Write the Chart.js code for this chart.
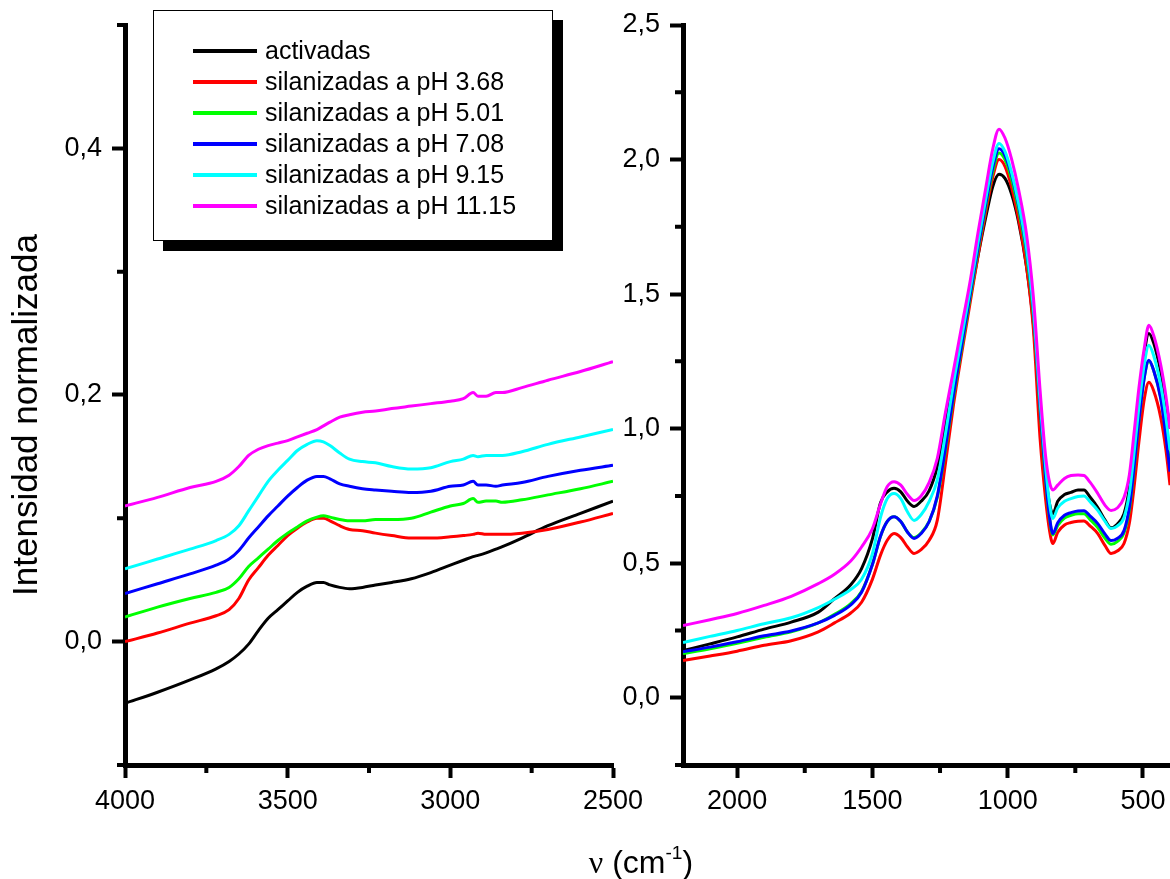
<!DOCTYPE html>
<html>
<head>
<meta charset="utf-8">
<title>Espectros IR normalizados</title>
<script src="https://cdn.jsdelivr.net/npm/chart.js"></script>
<style>
    html, body { margin: 0; padding: 0; background: #fff; }
    #page {
        position: relative;
        width: 1170px;
        height: 879px;
        overflow: hidden;
        font-family: "Liberation Sans", Arial, sans-serif;
        color: #000;
    }
    canvas { position: absolute; top: 0; }
    #leftChart { left: 0; }
    #rightChart { left: 600px; }
    #legend {
        position: absolute;
        left: 153px;
        top: 10px;
        width: 400px;
        height: 231px;
        border: 1px solid #000;
        background: #fff;
        box-shadow: 10px 10px 0 #000;
        padding-top: 24px;
        box-sizing: border-box;
    }
    .legend-row {
        display: flex;
        align-items: center;
        height: 31px;
        font-size: 25px;
        white-space: nowrap;
    }
    .swatch {
        display: inline-block;
        width: 64px;
        height: 4px;
        margin-left: 39px;
        margin-right: 8px;
    }
    #xTitle {
        position: absolute;
        left: 541px;
        top: 846px;
        width: 200px;
        text-align: center;
        font-size: 32px;
        line-height: 32px;
    }
    #xTitle .nu { font-family: "Liberation Serif", serif; }
    #xTitle sup { font-size: 60%; vertical-align: 0.75em; line-height: 0; }
    #yTitle {
        position: absolute;
        left: -175px;
        top: 395px;
        width: 400px;
        height: 40px;
        line-height: 40px;
        text-align: center;
        font-size: 35px;
        transform: rotate(-90deg);
        white-space: nowrap;
    }
</style>
</head>
<body>
<div id="page">
    <canvas id="leftChart" width="650" height="879"></canvas>
    <canvas id="rightChart" width="570" height="879"></canvas>
    <div id="legend"></div>
    <div id="yTitle">Intensidad normalizada</div>
    <div id="xTitle"><span class="nu">ν</span> (cm<sup>-1</sup>)</div>
</div>

<script>
// Series labels and colours (legend order)
const SERIES_LABELS = [
    'activadas',
    'silanizadas a pH 3.68',
    'silanizadas a pH 5.01',
    'silanizadas a pH 7.08',
    'silanizadas a pH 9.15',
    'silanizadas a pH 11.15'
];
const SERIES_COLORS = ['#000000', '#ff0000', '#00ff00', '#0000ff', '#00ffff', '#ff00ff'];

// Left panel: 4000 - 2500 cm-1
const LEFT_X = [4000, 3900, 3800, 3720, 3680, 3650, 3620, 3590, 3560, 3530, 3500, 3470, 3440, 3410, 3390, 3370,
    3340, 3310, 3270, 3230, 3180, 3120, 3060, 3000, 2960, 2930, 2915, 2890, 2860, 2840, 2780, 2700, 2600, 2500];

const LEFT_ACTIVADAS = [-0.050, -0.041, -0.031, -0.022, -0.016, -0.010, -0.002, 0.009, 0.019, 0.026, 0.033, 0.040,
    0.045, 0.048, 0.048, 0.046, 0.044, 0.043, 0.044, 0.046, 0.048, 0.051, 0.056, 0.062, 0.066, 0.069, 0.070, 0.072,
    0.075, 0.077, 0.084, 0.094, 0.104, 0.114];
const LEFT_PH368 = [0.000, 0.007, 0.015, 0.021, 0.026, 0.035, 0.050, 0.060, 0.070, 0.078, 0.086, 0.092, 0.097,
    0.100, 0.100, 0.098, 0.094, 0.091, 0.090, 0.088, 0.086, 0.084, 0.084, 0.085, 0.086, 0.087, 0.088, 0.087, 0.087,
    0.087, 0.088, 0.091, 0.097, 0.104];
const LEFT_PH501 = [0.020, 0.028, 0.035, 0.040, 0.044, 0.051, 0.061, 0.068, 0.075, 0.082, 0.088, 0.093, 0.098,
    0.101, 0.102, 0.101, 0.099, 0.098, 0.098, 0.099, 0.099, 0.100, 0.105, 0.110, 0.112, 0.116, 0.113, 0.114, 0.114,
    0.113, 0.115, 0.119, 0.124, 0.130];
const LEFT_PH708 = [0.039, 0.047, 0.055, 0.062, 0.067, 0.074, 0.084, 0.093, 0.102, 0.110, 0.118, 0.125, 0.131,
    0.134, 0.134, 0.132, 0.128, 0.126, 0.124, 0.123, 0.122, 0.121, 0.122, 0.126, 0.127, 0.130, 0.127, 0.127, 0.126,
    0.127, 0.129, 0.134, 0.139, 0.143];
const LEFT_PH915 = [0.059, 0.067, 0.075, 0.082, 0.087, 0.094, 0.106, 0.118, 0.130, 0.139, 0.147, 0.155, 0.160,
    0.163, 0.162, 0.159, 0.153, 0.148, 0.146, 0.145, 0.142, 0.140, 0.141, 0.146, 0.148, 0.151, 0.150, 0.151, 0.151,
    0.151, 0.154, 0.160, 0.166, 0.172];
const LEFT_PH1115 = [0.110, 0.117, 0.125, 0.130, 0.135, 0.142, 0.151, 0.156, 0.159, 0.161, 0.163, 0.166, 0.169,
    0.172, 0.175, 0.178, 0.182, 0.184, 0.186, 0.187, 0.189, 0.191, 0.193, 0.195, 0.197, 0.202, 0.199, 0.199, 0.202,
    0.202, 0.206, 0.212, 0.219, 0.227];

// Right panel: 2200 - 400 cm-1
const RIGHT_X = [2200, 2100, 2000, 1900, 1800, 1700, 1640, 1580, 1540, 1500, 1470, 1445, 1420, 1395, 1370, 1346,
    1320, 1290, 1260, 1230, 1200, 1170, 1140, 1110, 1080, 1055, 1032, 1010, 985, 960, 930, 905, 880, 860, 845, 833,
    815, 790, 766, 740, 718, 695, 667, 640, 618, 595, 570, 550, 533, 515, 495, 478, 460, 434, 415, 400];

const RIGHT_ACTIVADAS = [0.175, 0.200, 0.226, 0.255, 0.281, 0.318, 0.368, 0.420, 0.480, 0.590, 0.725, 0.765, 0.778,
    0.765, 0.730, 0.711, 0.730, 0.770, 0.860, 1.020, 1.180, 1.330, 1.480, 1.640, 1.790, 1.900, 1.945, 1.930, 1.870,
    1.770, 1.600, 1.390, 1.060, 0.830, 0.720, 0.684, 0.730, 0.755, 0.763, 0.772, 0.772, 0.745, 0.707, 0.660, 0.632,
    0.645, 0.684, 0.780, 0.930, 1.100, 1.280, 1.354, 1.317, 1.210, 1.100, 1.000];
const RIGHT_PH368 = [0.138, 0.155, 0.173, 0.195, 0.212, 0.245, 0.278, 0.315, 0.355, 0.440, 0.530, 0.585, 0.610,
    0.595, 0.560, 0.536, 0.550, 0.585, 0.660, 0.870, 1.090, 1.280, 1.460, 1.640, 1.810, 1.935, 2.000, 1.975, 1.895,
    1.780, 1.600, 1.370, 0.960, 0.740, 0.620, 0.573, 0.615, 0.642, 0.651, 0.656, 0.657, 0.638, 0.610, 0.565, 0.536,
    0.545, 0.573, 0.650, 0.781, 0.950, 1.110, 1.172, 1.140, 1.040, 0.920, 0.790];
const RIGHT_PH501 = [0.164, 0.182, 0.202, 0.225, 0.245, 0.278, 0.310, 0.350, 0.395, 0.495, 0.600, 0.655, 0.673,
    0.655, 0.615, 0.595, 0.612, 0.655, 0.745, 0.920, 1.120, 1.300, 1.480, 1.660, 1.830, 1.955, 2.024, 2.000, 1.925,
    1.815, 1.645, 1.425, 1.070, 0.810, 0.665, 0.605, 0.640, 0.668, 0.678, 0.684, 0.684, 0.662, 0.632, 0.592, 0.570,
    0.580, 0.612, 0.700, 0.850, 1.030, 1.190, 1.250, 1.215, 1.115, 0.980, 0.860];
const RIGHT_PH708 = [0.171, 0.188, 0.208, 0.230, 0.248, 0.278, 0.306, 0.345, 0.392, 0.495, 0.600, 0.655, 0.673,
    0.655, 0.615, 0.592, 0.610, 0.655, 0.750, 0.930, 1.130, 1.310, 1.490, 1.670, 1.840, 1.970, 2.040, 2.015, 1.940,
    1.830, 1.660, 1.440, 1.080, 0.820, 0.670, 0.610, 0.650, 0.678, 0.688, 0.694, 0.695, 0.675, 0.647, 0.608, 0.584,
    0.592, 0.621, 0.710, 0.856, 1.030, 1.190, 1.254, 1.215, 1.110, 0.970, 0.840];
const RIGHT_PH915 = [0.205, 0.228, 0.250, 0.275, 0.297, 0.335, 0.366, 0.402, 0.440, 0.535, 0.670, 0.740, 0.759,
    0.740, 0.690, 0.659, 0.680, 0.730, 0.810, 0.980, 1.170, 1.340, 1.510, 1.690, 1.860, 1.990, 2.060, 2.030, 1.950,
    1.840, 1.670, 1.450, 1.100, 0.860, 0.720, 0.666, 0.705, 0.730, 0.740, 0.748, 0.750, 0.728, 0.696, 0.655, 0.629,
    0.638, 0.670, 0.760, 0.908, 1.080, 1.240, 1.310, 1.270, 1.160, 1.040, 0.920];
const RIGHT_PH1115 = [0.268, 0.290, 0.313, 0.343, 0.377, 0.424, 0.459, 0.508, 0.560, 0.628, 0.720, 0.785, 0.803,
    0.790, 0.755, 0.733, 0.750, 0.800, 0.890, 1.060, 1.218, 1.380, 1.540, 1.726, 1.900, 2.040, 2.113, 2.080, 2.000,
    1.890, 1.720, 1.490, 1.140, 0.900, 0.800, 0.772, 0.790, 0.815, 0.826, 0.828, 0.826, 0.800, 0.759, 0.715, 0.696,
    0.705, 0.744, 0.830, 0.982, 1.150, 1.300, 1.384, 1.345, 1.235, 1.120, 1.000];

// Axis ticks (major ticks carry labels, minor ticks are short marks only)
const LEFT_X_TICKS = [4000, 3500, 3000, 2500];
const LEFT_X_MINOR = [3750, 3250, 2750];
const LEFT_Y_TICKS = [0.0, 0.2, 0.4];
const LEFT_Y_MINOR = [-0.1, 0.1, 0.3, 0.5];
const RIGHT_X_TICKS = [2000, 1500, 1000, 500];
const RIGHT_X_MINOR = [1750, 1250, 750];
const RIGHT_Y_TICKS = [0.0, 0.5, 1.0, 1.5, 2.0, 2.5];
const RIGHT_Y_MINOR = [-0.25, 0.25, 0.75, 1.25, 1.75, 2.25];

const LEFT_SERIES = [LEFT_ACTIVADAS, LEFT_PH368, LEFT_PH501, LEFT_PH708, LEFT_PH915, LEFT_PH1115];
const RIGHT_SERIES = [RIGHT_ACTIVADAS, RIGHT_PH368, RIGHT_PH501, RIGHT_PH708, RIGHT_PH915, RIGHT_PH1115];

const CANVAS_HEIGHT = 879;
const AXIS_BOTTOM = 765;
const TICK_FONT = { family: 'Liberation Sans', size: 27 };

document.addEventListener('DOMContentLoaded', function() {
    buildLegend();
    initPanel('leftChart', {
        xValues: LEFT_X, series: LEFT_SERIES,
        xMin: 2500, xMax: 4000, yMin: -0.1, yMax: 0.5,
        xTicks: LEFT_X_TICKS, xMinor: LEFT_X_MINOR,
        yTicks: LEFT_Y_TICKS, yMinor: LEFT_Y_MINOR,
        axisWidth: 125, padRight: 37
    });
    initPanel('rightChart', {
        xValues: RIGHT_X, series: RIGHT_SERIES,
        xMin: 400, xMax: 2200, yMin: -0.25, yMax: 2.5,
        xTicks: RIGHT_X_TICKS, xMinor: RIGHT_X_MINOR,
        yTicks: RIGHT_Y_TICKS, yMinor: RIGHT_Y_MINOR,
        axisWidth: 83, padRight: 0
    });
});

/**
 * Build the framed legend from the series labels
 */
function buildLegend() {
    const box = document.getElementById('legend');
    SERIES_LABELS.forEach((label, i) => {
        const row = document.createElement('div');
        row.className = 'legend-row';
        const swatch = document.createElement('span');
        swatch.className = 'swatch';
        swatch.style.background = SERIES_COLORS[i];
        const text = document.createElement('span');
        text.textContent = label;
        row.appendChild(swatch);
        row.appendChild(text);
        box.appendChild(row);
    });
}

/**
 * Short minor tick marks drawn through the chart's own scales
 */
function minorTicks(xMinor, yMinor) {
    return {
        id: 'minorTicks',
        afterDraw(chart) {
            const { ctx, chartArea, scales } = chart;
            ctx.save();
            ctx.strokeStyle = '#000';
            ctx.lineWidth = 4;
            ctx.beginPath();
            xMinor.forEach(v => {
                const px = scales.x.getPixelForValue(v);
                ctx.moveTo(px, chartArea.bottom);
                ctx.lineTo(px, chartArea.bottom + 8);
            });
            yMinor.forEach(v => {
                const py = scales.y.getPixelForValue(v);
                ctx.moveTo(chartArea.left, py);
                ctx.lineTo(chartArea.left - 8, py);
            });
            ctx.stroke();
            ctx.restore();
        }
    };
}

/**
 * One spectrum panel (reversed wavenumber axis)
 */
function initPanel(canvasId, cfg) {
    const datasets = cfg.series.map((values, i) => ({
        label: SERIES_LABELS[i],
        data: cfg.xValues.map((x, j) => ({ x: x, y: values[j] })),
        borderColor: SERIES_COLORS[i],
        borderWidth: 3,
        pointRadius: 0,
        fill: false,
        cubicInterpolationMode: 'monotone',
        order: SERIES_LABELS.length - i
    }));

    new Chart(document.getElementById(canvasId), {
        type: 'line',
        data: { datasets: datasets },
        options: {
            responsive: false,
            animation: false,
            events: [],
            layout: { padding: { top: 25, right: cfg.padRight, bottom: 0, left: 0 } },
            plugins: {
                legend: { display: false },
                tooltip: { enabled: false }
            },
            scales: {
                x: {
                    type: 'linear',
                    reverse: true,
                    min: cfg.xMin,
                    max: cfg.xMax,
                    afterBuildTicks: scale => {
                        scale.ticks = cfg.xTicks.map(v => ({ value: v }));
                    },
                    afterFit: scale => {
                        scale.height = CANVAS_HEIGHT - AXIS_BOTTOM;
                        scale.paddingLeft = 0;
                        scale.paddingRight = 0;
                    },
                    border: { display: true, color: '#000', width: 5 },
                    grid: { drawOnChartArea: false, drawTicks: true, tickLength: 13, tickWidth: 4, tickColor: '#000' },
                    ticks: {
                        color: '#000',
                        font: TICK_FONT,
                        padding: 7,
                        maxRotation: 0,
                        autoSkip: false,
                        callback: value => String(value)
                    }
                },
                y: {
                    type: 'linear',
                    min: cfg.yMin,
                    max: cfg.yMax,
                    afterBuildTicks: scale => {
                        scale.ticks = cfg.yTicks.map(v => ({ value: v }));
                    },
                    afterFit: scale => {
                        scale.width = cfg.axisWidth;
                        scale.paddingTop = 0;
                        scale.paddingBottom = 0;
                    },
                    border: { display: true, color: '#000', width: 5 },
                    grid: { drawOnChartArea: false, drawTicks: true, tickLength: 13, tickWidth: 4, tickColor: '#000' },
                    ticks: {
                        color: '#000',
                        font: TICK_FONT,
                        padding: 10,
                        autoSkip: false,
                        callback: value => value.toFixed(1).replace('.', ',')
                    }
                }
            }
        },
        plugins: [minorTicks(cfg.xMinor, cfg.yMinor)]
    });
}
</script>
</body>
</html>
